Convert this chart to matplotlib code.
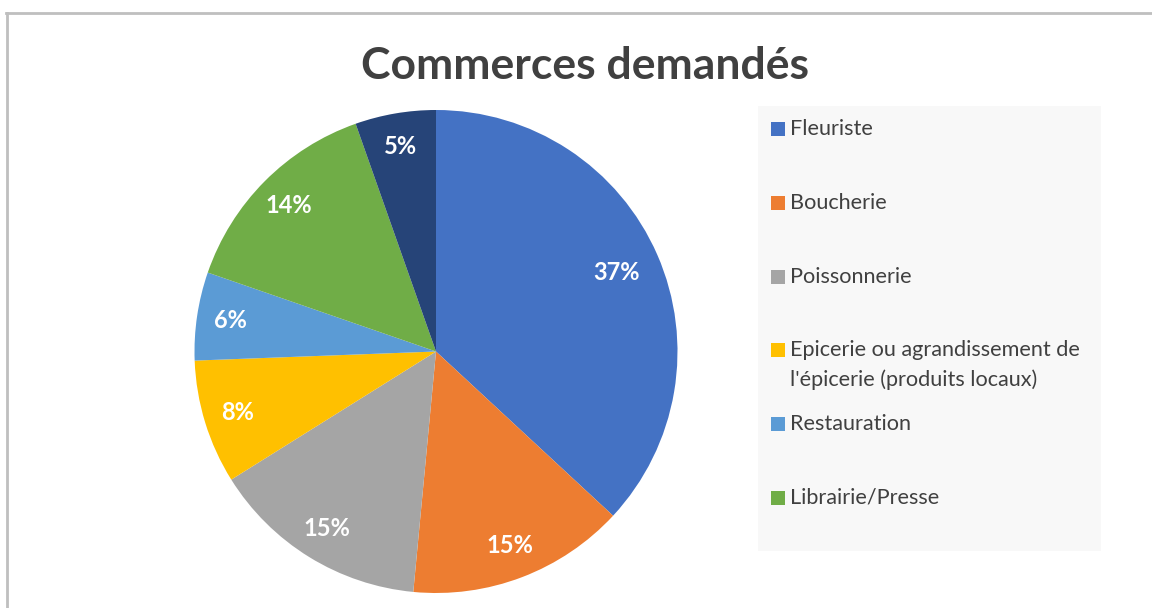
import matplotlib.pyplot as plt
from matplotlib.patches import Rectangle
from matplotlib.lines import Line2D

# Données (parts en %)
categories = ['Fleuriste', 'Boucherie', 'Poissonnerie',
              "Epicerie ou agrandissement de\nl'épicerie (produits locaux)",
              'Restauration', 'Librairie/Presse', 'Autre']
parts = [36.9, 14.6, 14.6, 8.3, 5.9, 14.3, 5.4]
couleurs = ['#4472C4', '#ED7D31', '#A5A5A5', '#FFC000', '#5B9BD5', '#70AD47', '#264478']

# seules les 6 premières entrées sont visibles dans la légende
n_legende = 6

plt.rcParams['font.family'] = ['Lato', 'DejaVu Sans']

W, H = 1152, 608
fig = plt.figure(figsize=(W / 100, H / 100), dpi=100)


def fx(px):
    return px / W


def fy(py):
    return 1 - py / H


# Camembert : centre (436, 351.5) px, rayon 241.5 px
cx, cy, r = 436, 351.5, 241.5
ax = fig.add_axes([fx(cx - r), fy(cy + r), 2 * r / W, 2 * r / H])
wedges, _, autotexts = ax.pie(parts, colors=couleurs, startangle=90, counterclock=False,
                              autopct='%.0f%%', pctdistance=0.86, radius=1,
                              textprops=dict(color='white', fontsize=17, fontweight='bold'))
# l'étiquette de la grande part est un peu plus vers l'intérieur
x, y = autotexts[0].get_position()
autotexts[0].set_position((x * 0.95, y * 0.95))
ax.set_xlim(-1, 1)
ax.set_ylim(-1, 1)
ax.set_aspect('equal')
ax.axis('off')

# Titre
fig.text(fx(585), fy(66), 'Commerces demandés', ha='center', va='center',
         fontsize=32, fontweight='bold', color='#404040')

# Cadre du graphique
fig.add_artist(Line2D([fx(6), 1], [fy(13), fy(13)], color='#bfbfbf', lw=2))
fig.add_artist(Line2D([fx(7), fx(7)], [fy(13), 0], color='#bfbfbf', lw=2))

# Légende dessinée à la main (coupée en bas comme sur l'original)
fig.add_artist(Rectangle((fx(758), fy(551)), fx(1101) - fx(758), fy(106) - fy(551),
                         transform=fig.transFigure, facecolor='#f8f8f8', edgecolor='none'))
y0, pas = 129, 73.8
for i in range(n_legende):
    y = y0 + i * pas
    fig.add_artist(Rectangle((fx(771), fy(y + 7)), fx(14), 14 / H,
                             transform=fig.transFigure, facecolor=couleurs[i], edgecolor='none'))
    fig.text(fx(790), fy(y - 10), categories[i], ha='left', va='top',
             fontsize=15.6, color='#404040', linespacing=1.55)

fig.savefig('out.png', dpi=100)
